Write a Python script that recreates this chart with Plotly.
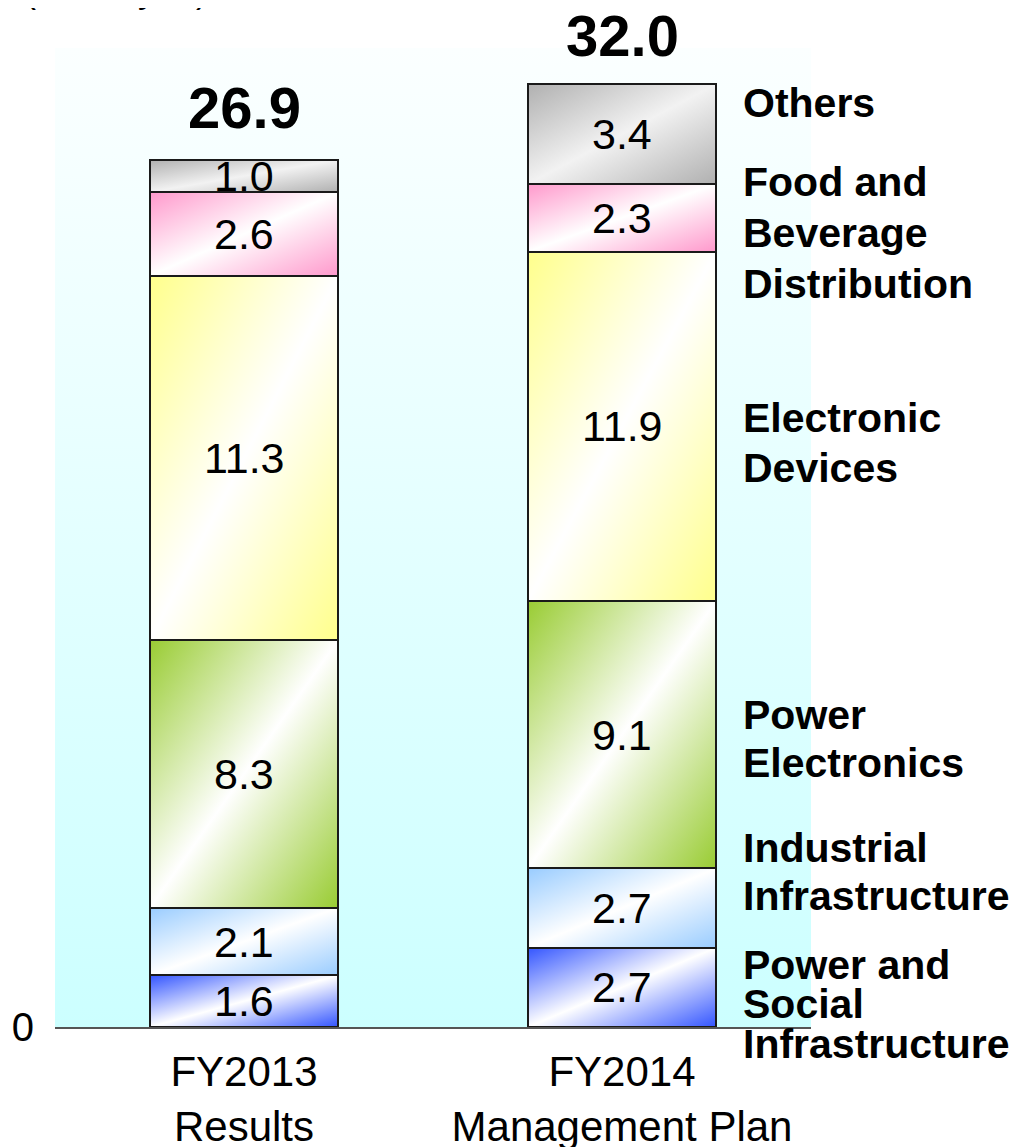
import base64
import plotly.graph_objects as go

# ---------------- data ----------------
categories = ["FY2013<br>Results", "FY2014<br>Management Plan"]
series = [
    "Power and Social Infrastructure",
    "Industrial Infrastructure",
    "Power Electronics",
    "Electronic Devices",
    "Food and Beverage Distribution",
    "Others",
]
fy2013 = [1.6, 2.1, 8.3, 11.3, 2.6, 1.0]
fy2014 = [2.7, 2.7, 9.1, 11.9, 2.3, 3.4]
totals = [26.9, 32.0]
unit_label = "(billion yen)"

# ---------------- style ----------------
FONT = "Liberation Sans, Arial, sans-serif"
colors = ["#3355ff", "#99ccff", "#99cc33", "#ffff8c", "#ff99cc", "#b0b0b0"]
OFF = 8                      # page body margin of the html page
W, H = 1019 - OFF, 1147 - OFF
L, T = 55 - OFF, 48 - OFF
PW, PH = 756, 979
R, B = W - L - PW, H - T - PH
BAR_W = 0.497
y_ranges = [30.37, 33.33]   # each bar column drawn on its own panel scale (as in the original slide)


def px_x(sx):   # screen pixel -> paper x
    return (sx - OFF - L) / PW


def px_y(sy):   # screen pixel -> paper y
    return (T + PH - (sy - OFF)) / PH


def grad_uri(c, mid="#ffffff"):
    svg = (
        '<svg xmlns="http://www.w3.org/2000/svg" width="100" height="100" '
        'viewBox="0 0 100 100" preserveAspectRatio="none"><defs>'
        '<linearGradient id="g" x1="0" y1="0" x2="1" y2="1">'
        f'<stop offset="0" stop-color="{c}"/>'
        f'<stop offset="0.5" stop-color="{mid}"/>'
        f'<stop offset="1" stop-color="{c}"/>'
        '</linearGradient></defs><rect width="100" height="100" fill="url(#g)"/></svg>'
    )
    return "data:image/svg+xml;base64," + base64.b64encode(svg.encode()).decode()


bg_svg = (
    '<svg xmlns="http://www.w3.org/2000/svg" width="100" height="100" '
    'viewBox="0 0 100 100" preserveAspectRatio="none"><defs>'
    '<linearGradient id="g" x1="0" y1="0" x2="0" y2="1">'
    '<stop offset="0" stop-color="#fbffff"/>'
    '<stop offset="1" stop-color="#ccffff"/>'
    '</linearGradient></defs><rect width="100" height="100" fill="url(#g)"/></svg>'
)
bg_uri = "data:image/svg+xml;base64," + base64.b64encode(bg_svg.encode()).decode()

fig = go.Figure()
images = [dict(source=bg_uri, xref="paper", yref="paper", x=0, y=1, sizex=1, sizey=1,
               sizing="stretch", xanchor="left", yanchor="top", layer="below")]
annotations = []

for i, vals in enumerate([fy2013, fy2014]):
    xa = "x" if i == 0 else "x2"
    ya = "y" if i == 0 else "y2"
    cum = 0.0
    for s, v, c in zip(series, vals, colors):
        fig.add_trace(go.Bar(
            x=[categories[i]], y=[v], xaxis=xa, yaxis=ya, width=BAR_W, name=s, showlegend=False,
            marker=dict(color="rgba(0,0,0,0)", line=dict(color="#1a1a1a", width=2)),
            hoverinfo="skip",
        ))
        mid = "#f2f2f2" if s == "Others" else "#ffffff"
        images.append(dict(source=grad_uri(c, mid), xref=xa, yref=ya,
                           x=-BAR_W / 2, y=cum + v, sizex=BAR_W, sizey=v,
                           sizing="stretch", xanchor="left", yanchor="top", layer="below"))
        annotations.append(dict(x=categories[i], y=cum + v / 2, xref=xa, yref=ya, text=f"{v:.1f}",
                                showarrow=False, font=dict(family=FONT, size=43, color="black"),
                                xanchor="center", yanchor="middle"))
        cum += v
    annotations.append(dict(x=categories[i], y=totals[i], xref=xa, yref=ya,
                            text=f"<b>{totals[i]:.1f}</b>",
                            showarrow=False, font=dict(family=FONT, size=58, color="black"),
                            xanchor="center", yanchor="middle", yshift=52))

# right-hand series labels (line by line, screen pixel centres)
label_lines = [
    ("Others", 103),
    ("Food and", 182), ("Beverage", 233), ("Distribution", 284),
    ("Electronic", 418), ("Devices", 468),
    ("Power", 715), ("Electronics", 763),
    ("Industrial", 848), ("Infrastructure", 896),
    ("Power and", 965), ("Social", 1004), ("Infrastructure", 1044),
]
for txt, py in label_lines:
    annotations.append(dict(x=px_x(741), y=px_y(py), xref="paper", yref="paper",
                            text=f"<b>{txt}</b>", showarrow=False, xanchor="left", yanchor="middle",
                            font=dict(family=FONT, size=41, color="black")))

annotations.append(dict(x=px_x(22), y=px_y(12), xref="paper", yref="paper",
                        text=unit_label, showarrow=False, xanchor="left", yanchor="bottom",
                        font=dict(family=FONT, size=36, color="black")))

xcommon = dict(range=[-0.5, 0.5], type="category", showgrid=False, zeroline=False, showline=True,
               linecolor="#555555", linewidth=2, ticks="", automargin=False,
               tickfont=dict(family=FONT, size=42, color="black"), ticklabelstandoff=7)
ycommon = dict(showgrid=False, zeroline=False, showline=False, ticks="", automargin=False,
               tickfont=dict(family=FONT, size=40, color="black"))

fig.update_layout(
    width=W, height=H,
    margin=dict(l=L, r=R, t=T, b=B),
    barmode="stack",
    paper_bgcolor="white", plot_bgcolor="rgba(0,0,0,0)",
    images=images, annotations=annotations,
    xaxis=dict(domain=[0, 0.5], anchor="y", **xcommon),
    xaxis2=dict(domain=[0.5, 1], anchor="y2", **xcommon),
    yaxis=dict(domain=[0, 1], anchor="x", range=[0, y_ranges[0]], tickvals=[0], ticktext=["0"],
               ticklabelstandoff=20, **ycommon),
    yaxis2=dict(domain=[0, 1], anchor="x2", range=[0, y_ranges[1]], showticklabels=False, **ycommon),
    showlegend=False,
)

fig.write_html("out.html")
